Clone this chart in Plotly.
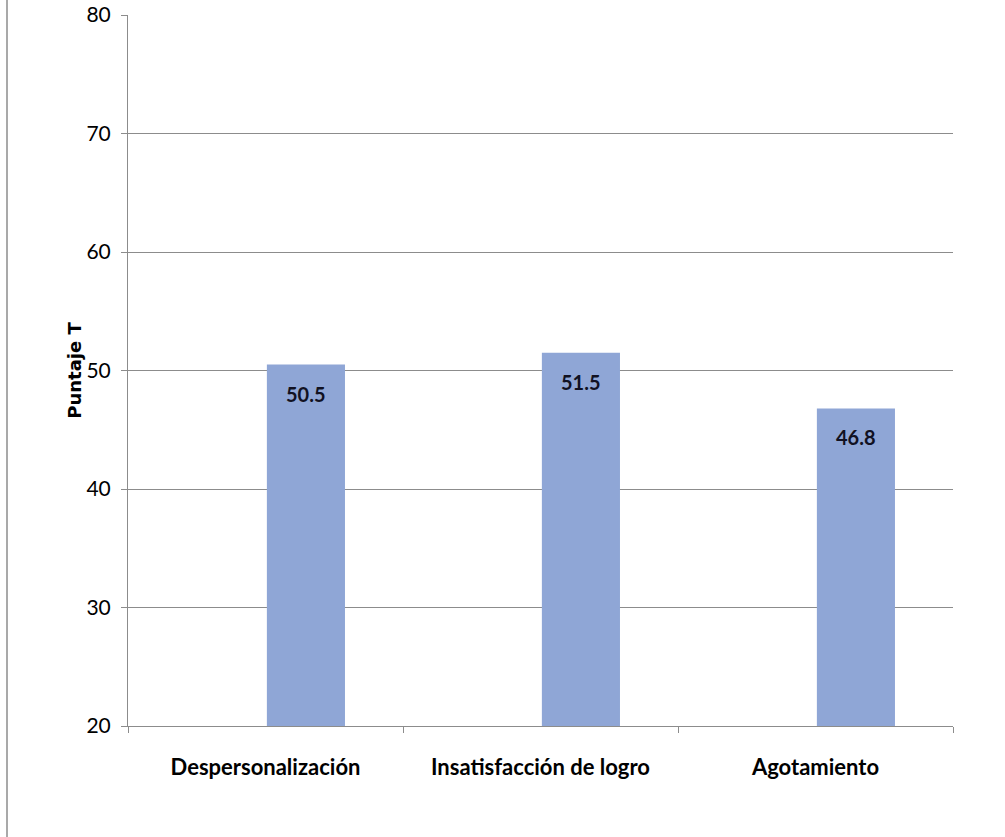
import plotly.graph_objects as go

categories = ["Despersonalización", "Insatisfacción de logro", "Agotamiento"]
values = [50.5, 51.5, 46.8]
y_ticks = [20, 30, 40, 50, 60, 70, 80]

bar_color = "#8FA6D6"
grid_color = "#8C8C8C"
font_family = "Lato, 'Open Sans', sans-serif"

fig = go.Figure()
fig.add_trace(go.Bar(
    x=categories,
    y=values,
    width=0.284,
    offset=0.005,
    marker=dict(color=bar_color, line=dict(width=0)),
    hoverinfo="skip",
))

for c, v in zip(categories, values):
    fig.add_annotation(
        x=c, y=v - 2.45, text=f"<b>{v}</b>", showarrow=False,
        xshift=40,
        font=dict(family=font_family, size=20, color="#111122"),
        xanchor="center", yanchor="middle",
    )

fig.update_layout(
    width=1005, height=837,
    margin=dict(l=128, r=52, t=15, b=111, autoexpand=False),
    paper_bgcolor="white",
    plot_bgcolor="white",
    showlegend=False,
    shapes=[dict(type="line", xref="paper", yref="paper",
                 x0=-121 / 825, x1=-121 / 825, y0=-111 / 711, y1=15 / 711 + 1,
                 line=dict(color="#8C8C8C", width=1.5))],
)

fig.update_xaxes(
    showline=True, linecolor=grid_color, linewidth=1,
    ticks="outside", ticklen=6, tickcolor=grid_color, tickson="boundaries",
    tickfont=dict(family=font_family, size=22, color="black"),
    tickprefix="<b>", ticksuffix="</b>",
    ticklabelstandoff=22,
    showgrid=False, zeroline=False, automargin=False,
)
fig.update_yaxes(
    range=[20, 80], tickvals=y_ticks,
    showline=True, linecolor=grid_color, linewidth=1,
    ticks="outside", ticklen=6, tickcolor=grid_color,
    tickfont=dict(family=font_family, size=21, color="black"),
    ticklabelstandoff=6,
    showgrid=True, gridcolor=grid_color, gridwidth=1,
    zeroline=False, automargin=False,
    title=dict(text="<b>Puntaje T</b>", font=dict(family="'DejaVu Sans', sans-serif", size=18, color="black"), standoff=0),
)

fig.write_html("out.html")
